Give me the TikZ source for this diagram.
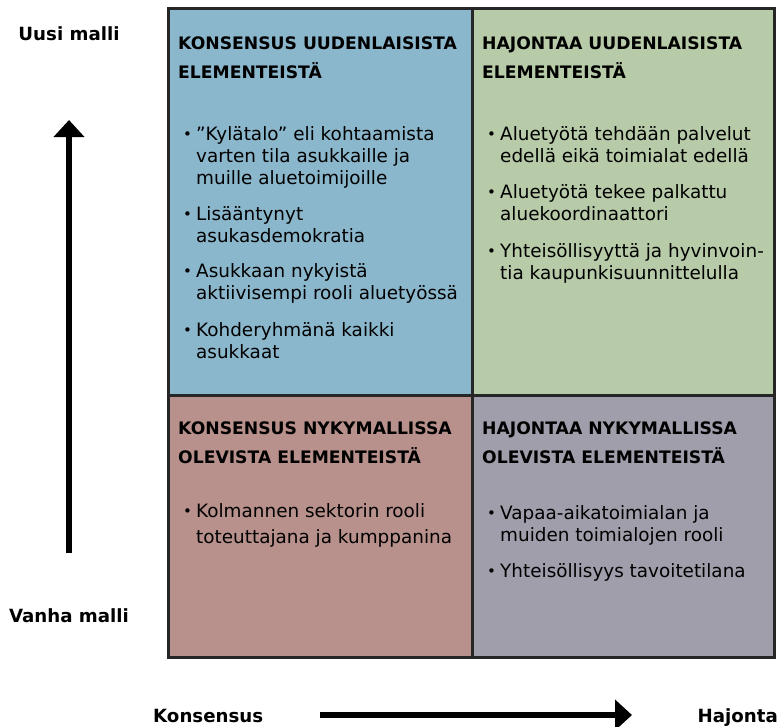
\documentclass[tikz,border=0pt]{standalone}
\usepackage{fontspec}
\setmainfont{DejaVu Sans}
\usetikzlibrary{arrows.meta}
\definecolor{qblue}{HTML}{8BB7CC}
\definecolor{qgreen}{HTML}{B7CBA8}
\definecolor{qrose}{HTML}{B9918C}
\definecolor{qgray}{HTML}{A09EAA}
\definecolor{qline}{HTML}{262626}
\newcommand{\mylines}[1]{\begin{tabular}[t]{@{}l@{}}#1\end{tabular}}
\newcommand{\mybul}{\makebox[13pt][l]{\fontsize{15}{15}\selectfont\raisebox{0.3pt}{•}}}
\begin{document}
\begin{tikzpicture}[x=1pt,y=-1pt,
  quad/.style={draw=qline,line width=2.6pt,inner sep=0pt,anchor=north west},
  head/.style={anchor=base west,inner sep=0pt,font=\fontsize{17.2}{29.5}\selectfont\bfseries},
  body/.style={anchor=base west,inner sep=0pt,font=\fontsize{18.4}{22.3}\selectfont},
  bodywide/.style={anchor=base west,inner sep=0pt,font=\fontsize{18.4}{26.5}\selectfont},
  axis/.style={inner sep=0pt,font=\fontsize{18.2}{20}\selectfont\bfseries},
  bigarrow/.style={line width=6pt,-{Triangle[length=17pt,width=30pt]}}]
\useasboundingbox (0,0) rectangle (783,726);
% quadrants
\node[quad,fill=qblue,minimum width=304pt,minimum height=387pt] (q1) at (167,7) {};
\node[quad,fill=qgreen,minimum width=302pt,minimum height=387pt] (q2) at (471,7) {};
\node[quad,fill=qrose,minimum width=304pt,minimum height=262pt] (q3) at (167,394) {};
\node[quad,fill=qgray,minimum width=302pt,minimum height=262pt] (q4) at (471,394) {};
% headings
\node[head] (h1) at (178,49) {\mylines{KONSENSUS UUDENLAISISTA\\ELEMENTEISTÄ}};
\node[head] (h2) at (482,49) {\mylines{HAJONTAA UUDENLAISISTA\\ELEMENTEISTÄ}};
\node[head] (h3) at (178,434) {\mylines{KONSENSUS NYKYMALLISSA\\OLEVISTA ELEMENTEISTÄ}};
\node[head] (h4) at (482,434) {\mylines{HAJONTAA NYKYMALLISSA\\OLEVISTA ELEMENTEISTÄ}};
% blue items
\node[body] (b1) at (183,140) {\mybul\mylines{”Kylätalo” eli kohtaamista\\varten tila asukkaille ja\\muille aluetoimijoille}};
\node[body] (b2) at (183,220) {\mybul\mylines{Lisääntynyt\\asukasdemokratia}};
\node[body] (b3) at (183,277) {\mybul\mylines{Asukkaan nykyistä\\aktiivisempi rooli aluetyössä}};
\node[body] (b4) at (183,336) {\mybul\mylines{Kohderyhmänä kaikki\\asukkaat}};
% green items
\node[body] (g1) at (487,140) {\mybul\mylines{Aluetyötä tehdään palvelut\\edellä eikä toimialat edellä}};
\node[body] (g2) at (487,198) {\mybul\mylines{Aluetyötä tekee palkattu\\aluekoordinaattori}};
\node[body] (g3) at (487,257) {\mybul\mylines{Yhteisöllisyyttä ja hyvinvoin-\\tia kaupunkisuunnittelulla}};
% rose items
\node[bodywide] (r1) at (183,517) {\mybul\mylines{Kolmannen sektorin rooli\\toteuttajana ja kumppanina}};
% gray items
\node[body] (k1) at (487,519) {\mybul\mylines{Vapaa-aikatoimialan ja\\muiden toimialojen rooli}};
\node[body] (k2) at (487,577) {\mybul\mylines{Yhteisöllisyys tavoitetilana}};
% axis labels
\node[axis,anchor=base] (uusi) at (69,40) {Uusi malli};
\node[axis,anchor=base] (vanha) at (69,622) {Vanha malli};
\node[axis,anchor=base west] (kons) at (153,722) {Konsensus};
\node[axis,anchor=base east] (hajo) at (778,722) {Hajonta};
% arrows
\coordinate (vs) at (69,553);
\coordinate (ve) at (69,120);
\coordinate (hs) at (320,715);
\coordinate (he) at (632,715);
\draw[bigarrow] (vs) -- (ve);
\draw[bigarrow] (hs) -- (he);
\end{tikzpicture}
\end{document}
